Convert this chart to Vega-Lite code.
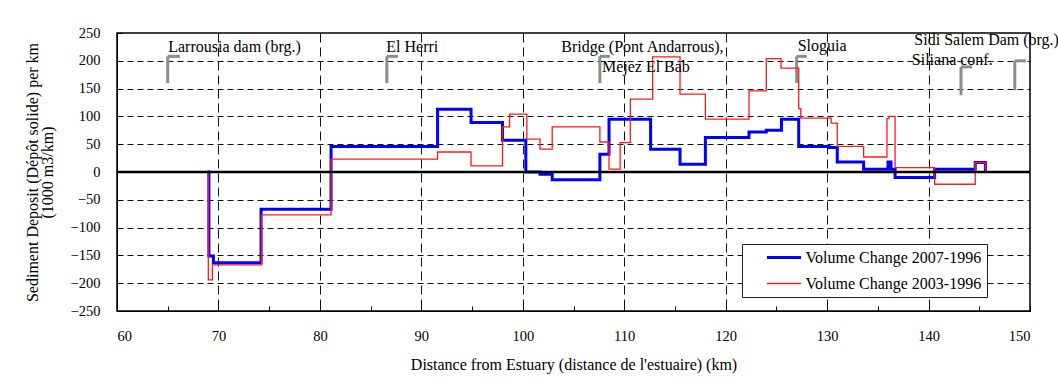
{
  "$schema": "https://vega.github.io/schema/vega-lite/v6.json",
  "width": 913,
  "height": 278,
  "autosize": {"type": "none"},
  "padding": {"left": 117, "top": 33, "right": 28, "bottom": 79},
  "background": "white",
  "config": {
    "font": "Liberation Serif",
    "view": {"stroke": "black", "strokeWidth": 1.5},
    "axis": {
      "labelFont": "Liberation Serif",
      "titleFont": "Liberation Serif",
      "labelFontSize": 14.5,
      "titleFontSize": 16,
      "titleFontWeight": "normal",
      "labelColor": "black",
      "titleColor": "black",
      "domainColor": "black",
      "tickColor": "black",
      "gridColor": "#111111",
      "gridWidth": 1
    },
    "legend": {
      "labelFont": "Liberation Serif",
      "labelFontSize": 16,
      "labelColor": "black",
      "labelLimit": 400
    }
  },
  "datasets": {
    "volume": [
      {"km": 68.9, "v": 0, "series": "Volume Change 2007-1996"},
      {"km": 69.06, "v": -151, "series": "Volume Change 2007-1996"},
      {"km": 69.5, "v": -163, "series": "Volume Change 2007-1996"},
      {"km": 74.2, "v": -67, "series": "Volume Change 2007-1996"},
      {"km": 81.1, "v": 46, "series": "Volume Change 2007-1996"},
      {"km": 91.6, "v": 113, "series": "Volume Change 2007-1996"},
      {"km": 94.9, "v": 89, "series": "Volume Change 2007-1996"},
      {"km": 98.0, "v": 57, "series": "Volume Change 2007-1996"},
      {"km": 100.3, "v": 0, "series": "Volume Change 2007-1996"},
      {"km": 101.7, "v": -4, "series": "Volume Change 2007-1996"},
      {"km": 102.9, "v": -14, "series": "Volume Change 2007-1996"},
      {"km": 107.6, "v": 32, "series": "Volume Change 2007-1996"},
      {"km": 108.5, "v": 95, "series": "Volume Change 2007-1996"},
      {"km": 112.6, "v": 41, "series": "Volume Change 2007-1996"},
      {"km": 115.5, "v": 14, "series": "Volume Change 2007-1996"},
      {"km": 118.0, "v": 62, "series": "Volume Change 2007-1996"},
      {"km": 122.3, "v": 72, "series": "Volume Change 2007-1996"},
      {"km": 124.0, "v": 75, "series": "Volume Change 2007-1996"},
      {"km": 125.5, "v": 95, "series": "Volume Change 2007-1996"},
      {"km": 127.2, "v": 46, "series": "Volume Change 2007-1996"},
      {"km": 130.2, "v": 44, "series": "Volume Change 2007-1996"},
      {"km": 131.0, "v": 18, "series": "Volume Change 2007-1996"},
      {"km": 133.6, "v": 5, "series": "Volume Change 2007-1996"},
      {"km": 136.0, "v": 18, "series": "Volume Change 2007-1996"},
      {"km": 136.3, "v": 5, "series": "Volume Change 2007-1996"},
      {"km": 136.7, "v": -10, "series": "Volume Change 2007-1996"},
      {"km": 140.6, "v": 5, "series": "Volume Change 2007-1996"},
      {"km": 144.6, "v": 17, "series": "Volume Change 2007-1996"},
      {"km": 145.6, "v": 0, "series": "Volume Change 2007-1996"},

      {"km": 68.9, "v": 0, "series": "Volume Change 2003-1996"},
      {"km": 69.0, "v": -194, "series": "Volume Change 2003-1996"},
      {"km": 69.4, "v": -167, "series": "Volume Change 2003-1996"},
      {"km": 74.25, "v": -77, "series": "Volume Change 2003-1996"},
      {"km": 81.1, "v": 23, "series": "Volume Change 2003-1996"},
      {"km": 91.6, "v": 36, "series": "Volume Change 2003-1996"},
      {"km": 94.9, "v": 11, "series": "Volume Change 2003-1996"},
      {"km": 98.0, "v": 81, "series": "Volume Change 2003-1996"},
      {"km": 98.7, "v": 104, "series": "Volume Change 2003-1996"},
      {"km": 100.4, "v": 59, "series": "Volume Change 2003-1996"},
      {"km": 101.7, "v": 41, "series": "Volume Change 2003-1996"},
      {"km": 102.9, "v": 81, "series": "Volume Change 2003-1996"},
      {"km": 107.6, "v": 54, "series": "Volume Change 2003-1996"},
      {"km": 108.5, "v": 5, "series": "Volume Change 2003-1996"},
      {"km": 109.6, "v": 53, "series": "Volume Change 2003-1996"},
      {"km": 110.6, "v": 131, "series": "Volume Change 2003-1996"},
      {"km": 112.8, "v": 207, "series": "Volume Change 2003-1996"},
      {"km": 115.5, "v": 140, "series": "Volume Change 2003-1996"},
      {"km": 118.0, "v": 95, "series": "Volume Change 2003-1996"},
      {"km": 122.3, "v": 146, "series": "Volume Change 2003-1996"},
      {"km": 124.0, "v": 204, "series": "Volume Change 2003-1996"},
      {"km": 125.45, "v": 187, "series": "Volume Change 2003-1996"},
      {"km": 127.2, "v": 114, "series": "Volume Change 2003-1996"},
      {"km": 127.4, "v": 97, "series": "Volume Change 2003-1996"},
      {"km": 130.4, "v": 88, "series": "Volume Change 2003-1996"},
      {"km": 131.0, "v": 46, "series": "Volume Change 2003-1996"},
      {"km": 133.6, "v": 27, "series": "Volume Change 2003-1996"},
      {"km": 135.9, "v": 96, "series": "Volume Change 2003-1996"},
      {"km": 136.1, "v": 100, "series": "Volume Change 2003-1996"},
      {"km": 136.7, "v": 8, "series": "Volume Change 2003-1996"},
      {"km": 140.6, "v": -22, "series": "Volume Change 2003-1996"},
      {"km": 144.6, "v": 17, "series": "Volume Change 2003-1996"},
      {"km": 145.6, "v": 0, "series": "Volume Change 2003-1996"}
    ],
    "places": [
      {"name": "Larrousia dam (brg.)", "km": 65.05, "v": 224},
      {"name": "El Herri", "km": 86.55, "v": 224},
      {"name": "Bridge (Pont Andarrous),", "km": 103.8, "v": 224},
      {"name": "Mejez El Bab", "km": 107.8, "v": 188},
      {"name": "Sloguia", "km": 127.1, "v": 226},
      {"name": "Sidi Salem Dam (brg.)", "km": 138.6, "v": 237},
      {"name": "Siliana conf.", "km": 138.35, "v": 201}
    ],
    "markers": [
      {"km": 65.0, "km2": 65.0, "v": 208, "v2": 160},
      {"km": 65.0, "km2": 66.2, "v": 208, "v2": 208},
      {"km": 86.6, "km2": 86.6, "v": 208, "v2": 160},
      {"km": 86.6, "km2": 87.7, "v": 208, "v2": 208},
      {"km": 107.6, "km2": 107.6, "v": 208, "v2": 160},
      {"km": 107.6, "km2": 108.6, "v": 208, "v2": 208},
      {"km": 127.0, "km2": 127.0, "v": 208, "v2": 160},
      {"km": 127.0, "km2": 128.0, "v": 208, "v2": 208},
      {"km": 143.2, "km2": 143.2, "v": 189, "v2": 138},
      {"km": 143.2, "km2": 144.3, "v": 189, "v2": 189},
      {"km": 148.5, "km2": 148.5, "v": 200, "v2": 147},
      {"km": 148.5, "km2": 149.6, "v": 200, "v2": 200}
    ],
    "baseline": [
      {"km": 60, "km2": 150, "v": 0}
    ]
  },
  "encoding": {
    "x": {
      "field": "km",
      "type": "quantitative",
      "scale": {"domain": [60, 150], "nice": false, "zero": false},
      "axis": {
        "title": "Distance from Estuary  (distance de l'estuaire) (km)",
        "values": [60, 65, 70, 75, 80, 85, 90, 95, 100, 105, 110, 115, 120, 125, 130, 135, 140, 145, 150],
        "labelExpr": "datum.value % 10 === 0 ? datum.label : ''",
        "grid": true,
        "gridDash": [9, 5],
        "gridOpacity": {"condition": {"test": "datum.value % 10 !== 0 || datum.value === 60 || datum.value === 150", "value": 0}, "value": 1},
        "tickSize": -5,
        "labelPadding": 23,
        "titlePadding": 14,
        "domain": true
      }
    },
    "y": {
      "field": "v",
      "type": "quantitative",
      "scale": {"domain": [-250, 250], "nice": false},
      "axis": {
        "title": ["Sediment Deposit (Dépôt solide) per km", "(1000 m3/km)"],
        "values": [-250, -200, -150, -100, -50, 0, 50, 100, 150, 200, 250],
        "grid": true,
        "gridDash": [6, 4],
        "gridOpacity": {"condition": {"test": "datum.value === 250 || datum.value === -250 || datum.value === 0", "value": 0}, "value": 1},
        "tickSize": -5,
        "labelPadding": 22,
        "titlePadding": 15,
        "titleLineHeight": 15
      }
    }
  },
  "layer": [
    {
      "data": {"name": "markers"},
      "mark": {"type": "rule", "color": "#8c8c8c", "strokeWidth": 3},
      "encoding": {
        "x2": {"field": "km2"},
        "y2": {"field": "v2"}
      }
    },
    {
      "data": {"name": "volume"},
      "transform": [{"filter": "datum.series === 'Volume Change 2007-1996'"}],
      "mark": {"type": "line", "interpolate": "step-after"},
      "encoding": {
        "color": {
          "field": "series",
          "type": "nominal",
          "scale": {"domain": ["Volume Change 2007-1996", "Volume Change 2003-1996"], "range": ["#0000ff", "#ff1a1a"]},
          "legend": {
            "title": null,
            "orient": "none",
            "legendX": 625,
            "legendY": 211,
            "symbolType": "stroke",
            "symbolSize": 1156,
            "clipHeight": 16,
            "labelOffset": 3,
            "labelLimit": 400,
            "rowPadding": 10,
            "padding": 5.5,
            "symbolOffset": 18,
            "labelExpr": "datum.label + '   '",
            "strokeColor": "#222222",
            "fillColor": "white"
          }
        },
        "strokeWidth": {
          "field": "series",
          "type": "nominal",
          "scale": {"domain": ["Volume Change 2007-1996", "Volume Change 2003-1996"], "range": [3, 1.3]},
          "legend": {"title": null}
        }
      }
    },
    {
      "data": {"name": "volume"},
      "transform": [{"filter": "datum.series === 'Volume Change 2003-1996'"}],
      "mark": {"type": "line", "interpolate": "step-after"},
      "encoding": {
        "color": {"field": "series", "type": "nominal"},
        "strokeWidth": {"field": "series", "type": "nominal"}
      }
    },
    {
      "data": {"name": "baseline"},
      "mark": {"type": "rule", "color": "black", "strokeWidth": 2.5},
      "encoding": {"x2": {"field": "km2"}}
    },
    {
      "data": {"name": "places"},
      "mark": {"type": "text", "align": "left", "baseline": "middle", "font": "Liberation Serif", "fontSize": 16, "color": "black"},
      "encoding": {
        "text": {"field": "name"}
      }
    }
  ]
}
